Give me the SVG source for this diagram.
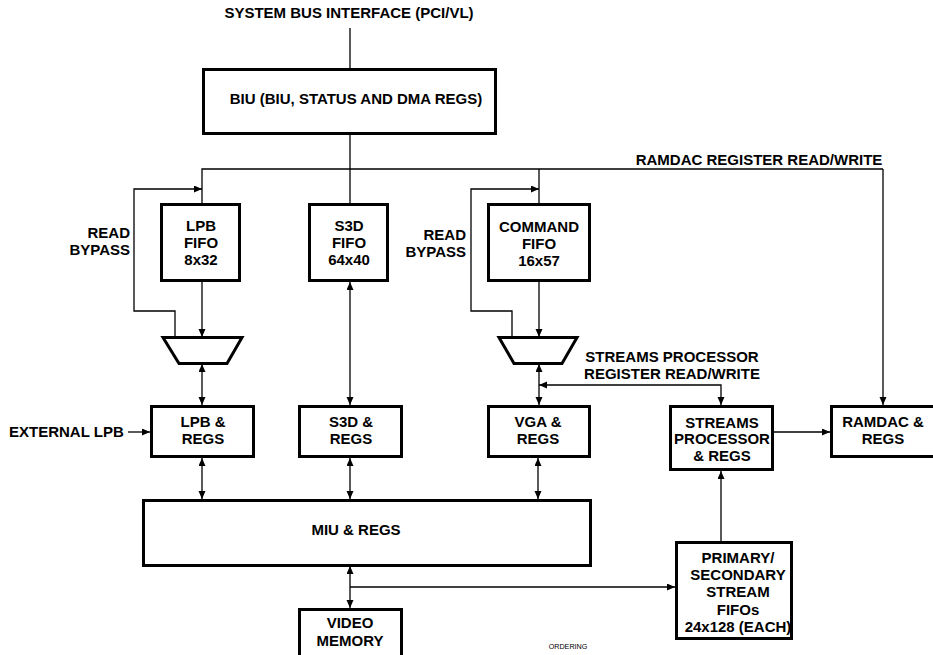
<svg xmlns="http://www.w3.org/2000/svg" width="933" height="655" viewBox="0 0 933 655">
  <defs>
    <marker id="arrow" markerUnits="userSpaceOnUse" markerWidth="9" markerHeight="8" refX="8" refY="3.5" orient="auto-start-reverse">
      <path d="M0,0 L8,3.5 L0,7 z" fill="#000"/>
    </marker>
    <style>
      .box { fill: #fff; stroke: #000; stroke-width: 3; }
      .mux { fill: #fff; stroke: #000; stroke-width: 3; stroke-linejoin: miter; }
      .wire { fill: none; stroke: #000; stroke-width: 1.3; }
      .end { marker-end: url(#arrow); }
      .both { marker-start: url(#arrow); marker-end: url(#arrow); }
      text { font-family: "Liberation Sans", Arial, sans-serif; font-weight: bold; font-size: 15px; fill: #000; }
      .c { text-anchor: middle; }
      .r { text-anchor: end; }
      .note { font-weight: normal; font-size: 7.2px; }
    </style>
  </defs>
  <rect width="933" height="655" fill="#fff"/>

  <!-- connectors -->
  <g id="connectors">
    <!-- system bus into BIU, BIU down to S3D FIFO -->
    <path class="wire" d="M350,28 V68"/>
    <path class="wire" d="M350,135 V203"/>
    <!-- internal bus feeding the FIFOs and the RAMDAC -->
    <path class="wire" d="M202,203 V169 H883"/>
    <path class="wire end" d="M883,169 V405"/>
    <path class="wire" d="M539,169 V203"/>
    <!-- read bypass loops -->
    <path class="wire end" d="M175,337 V311 H134 V189 H202"/>
    <path class="wire end" d="M512,337 V311 H471 V189 H539"/>
    <!-- FIFO outputs into muxes -->
    <path class="wire end" d="M202,282 V337"/>
    <path class="wire end" d="M539,282 V337"/>
    <!-- mux / FIFO to REGS blocks -->
    <path class="wire both" d="M202,364 V405"/>
    <path class="wire both" d="M350,282 V405"/>
    <path class="wire both" d="M539,364 V405"/>
    <!-- streams processor register read/write -->
    <path class="wire both" d="M539,385 H721 V405"/>
    <!-- external LPB -->
    <path class="wire end" d="M128,432 H150"/>
    <!-- streams processor to RAMDAC -->
    <path class="wire end" d="M774,432 H830"/>
    <!-- REGS blocks to MIU -->
    <path class="wire both" d="M202,458 V499"/>
    <path class="wire both" d="M350,458 V499"/>
    <path class="wire both" d="M538,458 V499"/>
    <!-- MIU to video memory, branch to stream FIFOs -->
    <path class="wire both" d="M350,566 V608"/>
    <path class="wire end" d="M350,587 H675"/>
    <!-- stream FIFOs up to streams processor -->
    <path class="wire end" d="M721,541 V471"/>
  </g>

  <text class="c" x="349" y="18">SYSTEM BUS INTERFACE (PCI/VL)</text>
  <text class="c" x="759" y="165">RAMDAC REGISTER READ/WRITE</text>
  <text class="r" x="130" y="238">READ</text>
  <text class="r" x="130" y="255">BYPASS</text>
  <text class="r" x="466" y="240">READ</text>
  <text class="r" x="466" y="257">BYPASS</text>
  <text class="c" x="672" y="362">STREAMS PROCESSOR</text>
  <text class="c" x="672" y="379">REGISTER READ/WRITE</text>
  <text x="9" y="437">EXTERNAL LPB</text>
  <text class="note c" x="568" y="649">ORDERING</text>

  <g id="biu">
    <rect class="box" x="203.5" y="69.5" width="292" height="64"/>
    <text class="c" x="356" y="104">BIU (BIU, STATUS AND DMA REGS)</text>
  </g>

  <g id="lpb-fifo">
    <rect class="box" x="161.5" y="204.5" width="78" height="76"/>
    <text class="c" x="201" y="231">LPB</text>
    <text class="c" x="201" y="248">FIFO</text>
    <text class="c" x="201" y="265">8x32</text>
  </g>

  <g id="s3d-fifo">
    <rect class="box" x="309.5" y="204.5" width="78" height="76"/>
    <text class="c" x="349" y="231">S3D</text>
    <text class="c" x="349" y="248">FIFO</text>
    <text class="c" x="349" y="265">64x40</text>
  </g>

  <g id="command-fifo">
    <rect class="box" x="488.5" y="204.5" width="101" height="76"/>
    <text class="c" x="539" y="232">COMMAND</text>
    <text class="c" x="539" y="249">FIFO</text>
    <text class="c" x="539" y="266">16x57</text>
  </g>

  <g id="lpb-mux">
    <path class="mux" d="M163,337.5 H242 L227,363.5 H179 Z"/>
  </g>

  <g id="cmd-mux">
    <path class="mux" d="M499,337.5 H577 L562,363.5 H514 Z"/>
  </g>

  <g id="lpb-regs">
    <rect class="box" x="151.5" y="406.5" width="102" height="50"/>
    <text class="c" x="203" y="427">LPB &amp;</text>
    <text class="c" x="203" y="444">REGS</text>
  </g>

  <g id="s3d-regs">
    <rect class="box" x="299.5" y="406.5" width="102" height="50"/>
    <text class="c" x="351" y="427">S3D &amp;</text>
    <text class="c" x="351" y="444">REGS</text>
  </g>

  <g id="vga-regs">
    <rect class="box" x="488.5" y="406.5" width="101" height="50"/>
    <text class="c" x="538" y="427">VGA &amp;</text>
    <text class="c" x="538" y="444">REGS</text>
  </g>

  <g id="streams-processor">
    <rect class="box" x="670.5" y="406.5" width="102" height="63"/>
    <text class="c" x="722" y="428">STREAMS</text>
    <text class="c" x="722" y="444">PROCESSOR</text>
    <text class="c" x="722" y="461">&amp; REGS</text>
  </g>

  <g id="ramdac">
    <rect class="box" x="831.5" y="406.5" width="110" height="50"/>
    <text class="c" x="883" y="427">RAMDAC &amp;</text>
    <text class="c" x="883" y="444">REGS</text>
  </g>

  <g id="miu">
    <rect class="box" x="143.5" y="500.5" width="447" height="65"/>
    <text class="c" x="356" y="535">MIU &amp; REGS</text>
  </g>

  <g id="video-memory">
    <rect class="box" x="299.5" y="609.5" width="102" height="60"/>
    <text class="c" x="350" y="628">VIDEO</text>
    <text class="c" x="350" y="646">MEMORY</text>
  </g>

  <g id="stream-fifos">
    <rect class="box" x="676.5" y="542.5" width="115" height="96"/>
    <text class="c" x="738" y="563">PRIMARY/</text>
    <text class="c" x="738" y="580">SECONDARY</text>
    <text class="c" x="738" y="597">STREAM</text>
    <text class="c" x="738" y="615">FIFOs</text>
    <text class="c" x="738" y="632">24x128 (EACH)</text>
  </g>
</svg>
